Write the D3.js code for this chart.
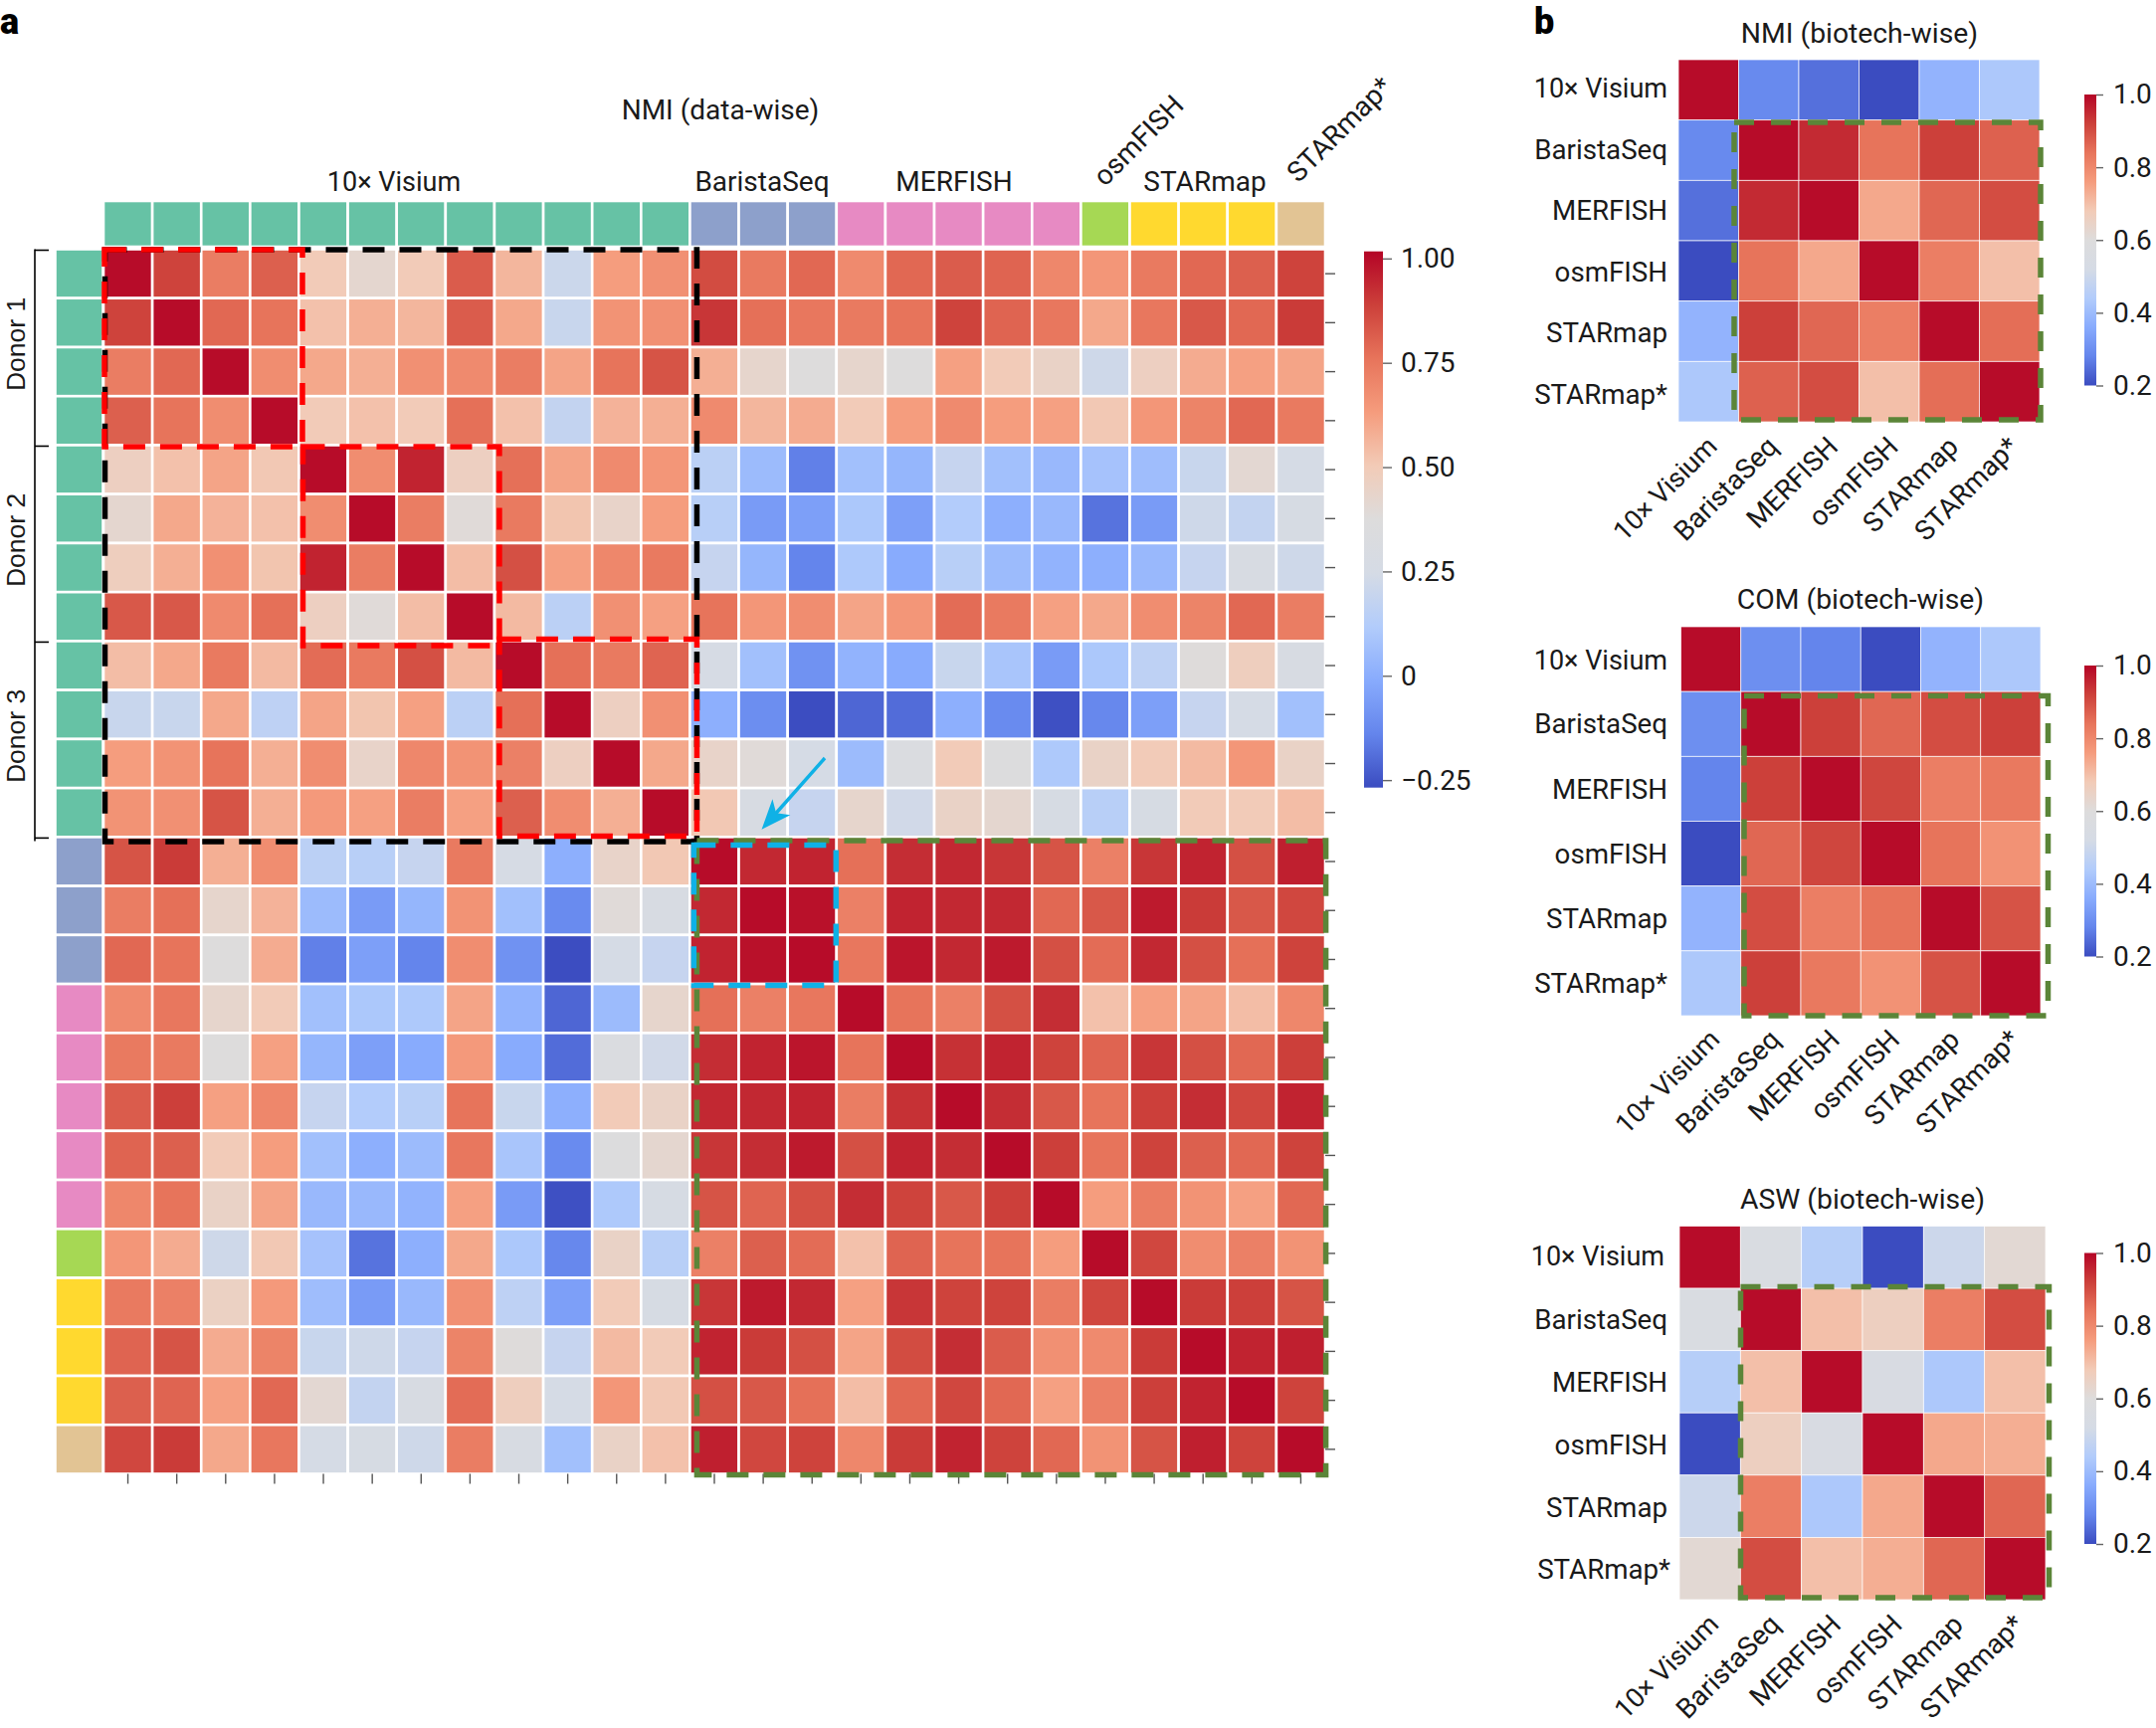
<!DOCTYPE html>
<html>
<head>
<meta charset="utf-8">
<script src="https://cdn.jsdelivr.net/npm/d3@7"></script>
<style>
body { margin: 0; background: #fff; }
text { font-family: Roboto, sans-serif; fill: #1a1a1a; }
</style>
</head>
<body>
<script>
// sample groups along both sides of the big heat map
var sampleGroups = ["v","v","v","v","v","v","v","v","v","v","v","v","b","b","b","m","m","m","m","m","o","s","s","s","t"];
var groupColors = {v:"#66c2a5", b:"#8da0cb", m:"#e78ac3", o:"#a6d854", s:"#ffd92f", t:"#e2c494"};
var donorNames = ["Donor 1","Donor 2","Donor 3"];
var methods = ["10× Visium","BaristaSeq","MERFISH","osmFISH","STARmap","STARmap*"];

var nmiDataWise = [
[1.00,.88,.73,.81,.50,.42,.50,.82,.56,.21,.63,.67,.86,.74,.79,.69,.79,.82,.80,.70,.65,.74,.79,.81,.88],
[.88,1.00,.79,.76,.53,.58,.56,.82,.60,.20,.66,.67,.91,.77,.75,.74,.76,.88,.80,.75,.60,.75,.83,.79,.90],
[.73,.79,1.00,.68,.60,.58,.67,.69,.73,.61,.76,.84,.58,.43,.37,.43,.37,.62,.50,.45,.22,.47,.59,.62,.61],
[.81,.76,.68,1.00,.50,.53,.50,.77,.53,.18,.57,.58,.69,.56,.59,.50,.63,.69,.63,.62,.51,.65,.71,.79,.74],
[.47,.53,.61,.51,1.00,.68,.95,.47,.77,.61,.69,.65,.15,.05,-.15,.07,.03,.19,.07,.04,.08,.06,.20,.41,.245],
[.42,.60,.57,.53,.68,1.00,.73,.39,.74,.52,.44,.63,.14,-.065,-.05,.10,-.05,.12,.005,.04,-.18,-.065,.22,.18,.27],
[.48,.58,.67,.52,.95,.73,1.00,.54,.85,.62,.70,.74,.19,.03,-.14,.105,-.01,.14,.05,.02,.005,.04,.19,.285,.22],
[.83,.83,.69,.77,.47,.39,.54,1.00,.55,.15,.67,.62,.76,.65,.68,.61,.65,.78,.74,.62,.60,.68,.71,.79,.73],
[.54,.60,.74,.55,.78,.74,.85,.55,1.00,.77,.74,.80,.26,.07,-.095,.02,-.01,.20,.09,-.065,.10,.16,.38,.48,.285],
[.20,.20,.60,.16,.61,.52,.62,.15,.77,1.00,.47,.67,.005,-.11,-.265,-.21,-.195,.005,-.12,-.26,-.13,-.05,.19,.245,.07],
[.63,.66,.76,.58,.68,.44,.70,.66,.72,.47,1.00,.60,.44,.39,.245,.05,.32,.50,.36,.105,.45,.50,.55,.65,.45],
[.66,.67,.84,.58,.64,.62,.73,.62,.81,.68,.58,1.00,.51,.285,.19,.43,.23,.45,.42,.27,.14,.27,.50,.50,.54],
[.84,.90,.58,.68,.15,.14,.19,.74,.26,.005,.44,.51,1.00,.94,.95,.77,.93,.94,.91,.84,.72,.91,.95,.85,.96],
[.73,.77,.43,.57,.05,-.065,.03,.66,.07,-.12,.39,.285,.94,1.00,.99,.72,.95,.94,.94,.79,.83,.97,.90,.83,.87],
[.79,.76,.37,.59,-.15,-.05,-.14,.68,-.095,-.265,.245,.19,.95,.99,1.00,.75,.98,.94,.97,.85,.78,.94,.85,.77,.88],
[.69,.75,.43,.50,.07,.10,.105,.61,.02,-.21,.05,.43,.77,.72,.75,1.00,.76,.72,.85,.93,.53,.62,.61,.54,.70],
[.74,.74,.37,.62,.03,-.05,-.01,.64,-.01,-.195,.32,.23,.93,.95,.98,.76,1.00,.92,.95,.88,.80,.91,.85,.79,.89],
[.82,.89,.62,.70,.19,.12,.14,.76,.20,.005,.50,.45,.94,.94,.95,.73,.92,1.00,.93,.83,.76,.89,.93,.87,.95],
[.80,.81,.50,.63,.07,.005,.05,.75,.09,-.12,.36,.42,.91,.93,.97,.85,.95,.93,1.00,.89,.76,.88,.81,.79,.88],
[.70,.76,.45,.61,.04,.04,.02,.62,-.065,-.26,.105,.27,.84,.80,.85,.93,.88,.83,.89,1.00,.63,.73,.66,.62,.79],
[.65,.59,.22,.51,.08,-.18,.005,.60,.10,-.13,.45,.14,.72,.81,.78,.53,.80,.76,.76,.63,1.00,.87,.68,.72,.66],
[.74,.72,.46,.64,.06,-.065,.04,.67,.16,-.05,.50,.27,.91,.97,.94,.62,.91,.88,.88,.73,.87,1.00,.90,.89,.84],
[.80,.84,.59,.71,.20,.22,.19,.71,.38,.19,.55,.50,.95,.90,.85,.61,.86,.93,.82,.67,.69,.90,1.00,.95,.96],
[.81,.80,.62,.79,.41,.18,.285,.78,.48,.245,.65,.51,.85,.83,.77,.54,.79,.87,.79,.62,.72,.89,.95,1.00,.88],
[.87,.90,.60,.75,.245,.27,.22,.73,.285,.07,.45,.53,.96,.87,.88,.70,.90,.95,.88,.79,.66,.84,.96,.88,1.00]
];

var nmiBiotech = [
[.99,.29,.25,.20,.38,.43],
[.29,.99,.95,.84,.92,.87],
[.25,.95,.99,.74,.86,.90],
[.20,.84,.74,.99,.82,.70],
[.38,.92,.86,.82,.99,.85],
[.43,.87,.90,.70,.85,.99]
];
var comBiotech = [
[.99,.30,.28,.20,.38,.43],
[.30,.99,.92,.86,.90,.92],
[.28,.92,.99,.91,.82,.83],
[.20,.86,.91,.99,.84,.78],
[.38,.90,.82,.84,.99,.89],
[.43,.92,.83,.78,.89,.99]
];
var aswBiotech = [
[.99,.56,.45,.20,.50,.62],
[.56,.99,.70,.66,.82,.90],
[.45,.70,.99,.55,.43,.70],
[.20,.66,.55,.99,.74,.73],
[.50,.82,.43,.74,.99,.86],
[.62,.90,.70,.73,.86,.99]
];

var mainTicks = [1, .75, .5, .25, 0, -.25];
var mainTickText = ["1.00","0.75","0.50","0.25","0","−0.25"];
var smallTicks = [1, .8, .6, .4, .2];

// matplotlib coolwarm sampled every 0.1
var coolwarm = ["#3b4cc0","#6485ec","#88abfd","#b2ccfb","#d5dbe5","#dddcdc","#f2cbb7","#f59c7d","#e7745b","#cc403a","#b40426"];

function ramp(lo, hi) {
  return d3.scaleLinear()
    .domain(coolwarm.map(function(c, i) { return lo + (hi - lo) * i / 10; }))
    .range(coolwarm)
    .clamp(true);
}

var svg = d3.select("body").append("svg").attr("width", 2167).attr("height", 1737);
var defs = svg.append("defs");

var n = nmiDataWise.length;
var idx = d3.range(n);
var x = d3.scaleBand().domain(idx).range([104, 1332]);
var y = d3.scaleBand().domain(idx).range([250.5, 1481.5]);
var mainColor = ramp(-.268, 1.017);

// ---- big heat map
var cells = svg.append("g").attr("class", "cells");
nmiDataWise.forEach(function(row, r) {
  cells.selectAll("rect.r" + r)
    .data(row)
    .enter().append("rect")
    .attr("class", "r" + r)
    .attr("x", function(d, c) { return x(c); })
    .attr("y", y(r))
    .attr("width", x.bandwidth())
    .attr("height", y.bandwidth())
    .attr("fill", function(d) { return mainColor(d); })
    .attr("stroke", "#fff")
    .attr("stroke-width", 2.6);
});

// group colour strips
svg.append("g").selectAll("rect")
  .data(sampleGroups)
  .enter().append("rect")
  .attr("x", function(d, i) { return x(i); })
  .attr("y", 202)
  .attr("width", x.bandwidth())
  .attr("height", 46)
  .attr("fill", function(d) { return groupColors[d]; })
  .attr("stroke", "#fff")
  .attr("stroke-width", 2.6);

svg.append("g").selectAll("rect")
  .data(sampleGroups)
  .enter().append("rect")
  .attr("x", 55.5)
  .attr("y", function(d, i) { return y(i); })
  .attr("width", 48)
  .attr("height", y.bandwidth())
  .attr("fill", function(d) { return groupColors[d]; })
  .attr("stroke", "#fff")
  .attr("stroke-width", 2.6);

// little ticks right and below, no labels
var rightAxis = svg.append("g")
  .attr("transform", "translate(1332,0)")
  .call(d3.axisRight(y).tickSize(10).tickFormat(""));
var bottomAxis = svg.append("g")
  .attr("transform", "translate(0,1481.5)")
  .call(d3.axisBottom(x).tickSize(10).tickFormat(""));
[rightAxis, bottomAxis].forEach(function(a) {
  a.select(".domain").remove();
  a.selectAll("line").attr("stroke", "#555").attr("stroke-width", 1.4);
});

// dashed boxes, edges given in cell index then nudged a few px
function edgeX(c) { return x.range()[0] + c * x.step(); }
function edgeY(r) { return y.range()[0] + r * y.step(); }
function dashBox(c0, c1, r0, r1, nudge, color) {
  var left = edgeX(c0) + nudge[0], right = edgeX(c1) + nudge[1];
  var top = edgeY(r0) + nudge[2], bottom = edgeY(r1) + nudge[3];
  svg.append("rect")
    .attr("x", left).attr("y", top)
    .attr("width", right - left).attr("height", bottom - top)
    .attr("fill", "none")
    .attr("stroke", color)
    .attr("stroke-width", 5.5)
    .attr("stroke-dasharray", "22,15");
}
dashBox(0, 12, 0, 12, [1.5, 7, 0.5, 4.5], "#000");
dashBox(0, 4, 0, 4, [1, 3.5, 0.5, 1.5], "#ff0000");
dashBox(4, 8, 4, 8, [4, 5, 1.5, 4.5], "#ff0000");
dashBox(8, 12, 8, 12, [5, 7, -2, -1], "#ff0000");
dashBox(12, 25, 12, 25, [7, 0.6, 3.6, 1.1], "#5b8538");
dashBox(12, 15, 12, 15, [3.9, -0.5, 8, 1.3], "#0fb1e6");

// arrow
defs.append("marker")
  .attr("id", "arrowhead")
  .attr("markerUnits", "userSpaceOnUse")
  .attr("viewBox", "-24 -14 34 28")
  .attr("markerWidth", 34)
  .attr("markerHeight", 28)
  .attr("orient", "auto")
  .append("path")
  .attr("d", "M9,0 L-21,-12 L-13,0 L-21,12 Z")
  .attr("fill", "#0fb1e6");
svg.append("line")
  .attr("x1", 829).attr("y1", 762)
  .attr("x2", 771.5).attr("y2", 827)
  .attr("stroke", "#0fb1e6")
  .attr("stroke-width", 3.4)
  .attr("marker-end", "url(#arrowhead)");

// donor brackets
var bracket = svg.append("g").attr("fill", "none").attr("stroke", "#000").attr("stroke-width", 1.6);
bracket.append("line").attr("x1", 35).attr("x2", 35).attr("y1", y(0)).attr("y2", y(12) + 4);
[0, 4, 8, 12].forEach(function(r) {
  bracket.append("line").attr("x1", 35).attr("x2", 49).attr("y1", y(r) + 1).attr("y2", y(r) + 1);
});
donorNames.forEach(function(name, i) {
  svg.append("text")
    .attr("transform", "translate(25," + (y(i * 4) + y.step() * 2 - 3) + ") rotate(-90)")
    .attr("text-anchor", "middle")
    .style("font-family", "'Liberation Sans', sans-serif")
    .style("font-size", "26.5px")
    .text(name);
});

// top labels
var topLabels = [
  {t: "NMI (data-wise)", x: 724, y: 120},
  {t: "10× Visium", x: 396, y: 192},
  {t: "BaristaSeq", x: 766, y: 192},
  {t: "MERFISH", x: 959, y: 192},
  {t: "STARmap", x: 1211, y: 192}
];
svg.append("g").selectAll("text")
  .data(topLabels)
  .enter().append("text")
  .attr("x", function(d) { return d.x; })
  .attr("y", function(d) { return d.y; })
  .attr("text-anchor", "middle")
  .style("font-size", function(d) { return d.t == "10× Visium" ? "27px" : "28px"; })
  .text(function(d) { return d.t; });
[{t: "osmFISH", x: 1144, y: 141}, {t: "STARmap*", x: 1346, y: 130}].forEach(function(d) {
  svg.append("text")
    .attr("transform", "translate(" + d.x + "," + d.y + ") rotate(-45)")
    .attr("text-anchor", "middle")
    .attr("dy", ".35em")
    .style("font-size", "28px")
    .text(d.t);
});

// panel letters
[{t: "a", x: 0, y: 34}, {t: "b", x: 1542, y: 34}].forEach(function(d) {
  svg.append("text")
    .attr("x", d.x).attr("y", d.y)
    .style("font-size", "36px")
    .style("font-weight", 900)
    .style("fill", "#000")
    .text(d.t);
});

// colour bars
function colorBar(id, colorScale, left, right, top, bottom, vTop, vBottom, ticks, tickText) {
  var grad = defs.append("linearGradient")
    .attr("id", id)
    .attr("x1", 0).attr("x2", 0).attr("y1", 1).attr("y2", 0);
  coolwarm.forEach(function(c, i) {
    grad.append("stop").attr("offset", (i * 10) + "%").attr("stop-color", c);
  });
  svg.append("rect")
    .attr("x", left).attr("y", top)
    .attr("width", right - left).attr("height", bottom - top)
    .attr("fill", "url(#" + id + ")");
  var scale = d3.scaleLinear().domain([vBottom, vTop]).range([bottom, top]);
  var axis = svg.append("g")
    .attr("transform", "translate(" + right + ",0)")
    .call(d3.axisRight(scale).tickValues(ticks).tickSize(right > 1400 ? 7 : 9)
      .tickPadding(right > 1400 ? 10 : 9)
      .tickFormat(function(d, i) { return tickText[i]; }));
  axis.select(".domain").remove();
  axis.selectAll("line").attr("stroke", "#666").attr("stroke-width", 1.4);
  axis.selectAll("text")
    .style("font-family", "Roboto, sans-serif")
    .style("font-size", "28px")
    .style("fill", "#1a1a1a");
}
colorBar("mainBar", mainColor, 1371, 1390, 252.7, 791.7, 1.017, -.268, mainTicks, mainTickText);

// biotech-wise panels
var panels = [
  {title: "NMI (biotech-wise)", values: nmiBiotech, l: 1687, r: 2050, t: 60, b: 424, titleX: 1869, titleY: 43,
   bar: [95, 387.5], labelX: 1676, labelDx: [0,0,0,0,0,0], labelDy: [-2,-1,0,1,1.5,3],
   box: [1743, 2051, 123, 422], xlab: [-3, 13]},
  {title: "COM (biotech-wise)", values: comBiotech, l: 1689.5, r: 2051, t: 630, b: 1021, titleX: 1870, titleY: 612,
   bar: [669, 961.5], labelX: 1676, labelDx: [0,0,0,0,0,0], labelDy: [1,0,0,0,0,0],
   box: [1753, 2058.5, 699.5, 1021], xlab: [-3, 12]},
  {title: "ASW (biotech-wise)", values: aswBiotech, l: 1688, r: 2056, t: 1232.5, b: 1608, titleX: 1872, titleY: 1215,
   bar: [1259.5, 1552], labelX: 1676, labelDx: [-3,0,0,0,0,3], labelDy: [-1,0,0,1,1,1],
   box: [1749.5, 2059.5, 1293.5, 1606], xlab: [-3, 13]}
];

panels.forEach(function(p, k) {
  var px = d3.scaleBand().domain(methods).range([p.l, p.r]);
  var py = d3.scaleBand().domain(methods).range([p.t, p.b]);
  var pc = ramp(.2, 1.0);
  var g = svg.append("g");

  p.values.forEach(function(row, r) {
    g.selectAll("rect.r" + r)
      .data(row)
      .enter().append("rect")
      .attr("class", "r" + r)
      .attr("x", function(d, c) { return px(methods[c]); })
      .attr("y", py(methods[r]))
      .attr("width", px.bandwidth())
      .attr("height", py.bandwidth())
      .attr("fill", function(d) { return pc(d); })
      .attr("stroke", "#fff")
      .attr("stroke-opacity", .85)
      .attr("stroke-width", .8);
  });

  svg.append("rect")
    .attr("x", p.box[0]).attr("y", p.box[2])
    .attr("width", p.box[1] - p.box[0]).attr("height", p.box[3] - p.box[2])
    .attr("fill", "none")
    .attr("stroke", "#5b8538")
    .attr("stroke-width", 5.5)
    .attr("stroke-dasharray", "20,17");

  svg.append("text")
    .attr("x", p.titleX).attr("y", p.titleY)
    .attr("text-anchor", "middle")
    .style("font-size", "28.3px")
    .text(p.title);

  function labelSize(d) { return d == "10× Visium" ? "27px" : "27.7px"; }

  // row names
  svg.append("g").selectAll("text")
    .data(methods)
    .enter().append("text")
    .attr("x", function(d, i) { return p.labelX + p.labelDx[i]; })
    .attr("y", function(d, i) { return py(d) + py.bandwidth() / 2 + p.labelDy[i]; })
    .attr("dy", ".35em")
    .attr("text-anchor", "end")
    .style("font-size", labelSize)
    .text(function(d) { return d; });

  // column names
  svg.append("g").selectAll("text")
    .data(methods)
    .enter().append("text")
    .attr("transform", function(d) {
      return "translate(" + (px(d) + px.bandwidth() / 2 + p.xlab[0]) + "," + (p.b + p.xlab[1]) + ") rotate(-45)";
    })
    .attr("dy", ".7em")
    .attr("text-anchor", "end")
    .style("font-size", labelSize)
    .text(function(d) { return d; });

  colorBar("smallBar" + k, pc, 2095, 2107, p.bar[0], p.bar[1], 1.0, .2, smallTicks, smallTicks.map(d3.format(".1f")));
});
</script>
</body>
</html>
